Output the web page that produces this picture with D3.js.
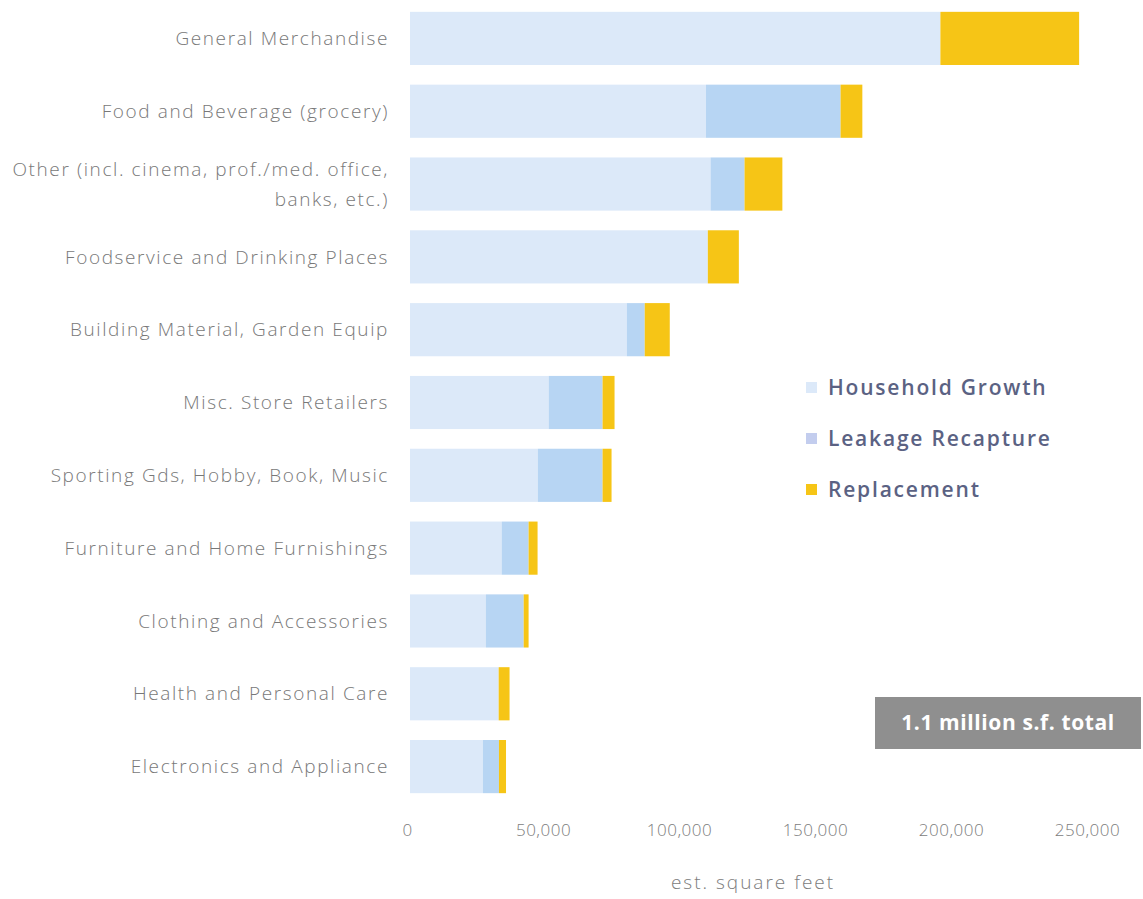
<!DOCTYPE html>
<html><head><meta charset="utf-8">
<script src="https://cdn.jsdelivr.net/npm/d3@7"></script>
<style>body{margin:0;background:#fff}svg{display:block}</style>
</head><body>
<svg id="chart" width="1143" height="899"></svg>
<script>
const categories = [
  "General Merchandise",
  "Food and Beverage (grocery)",
  "Other (incl. cinema, prof./med. office,|banks, etc.)",
  "Foodservice and Drinking Places",
  "Building Material, Garden Equip",
  "Misc. Store Retailers",
  "Sporting Gds, Hobby, Book, Music",
  "Furniture and Home Furnishings",
  "Clothing and Accessories",
  "Health and Personal Care",
  "Electronics and Appliance"
];
const householdGrowth = [195000, 108800, 110500, 109500, 79700, 51000, 47000, 33700, 27900, 32600, 26800];
const leakageRecapture = [0, 49500, 12500, 0, 6600, 19800, 23800, 9900, 13900, 0, 5900];
const replacement = [51000, 8000, 13900, 11400, 9200, 4400, 3300, 3300, 1800, 4000, 2600];
const seriesNames = ["Household Growth", "Leakage Recapture", "Replacement"];
const seriesColors = ["#dce9f9", "#b7d5f3", "#f6c516"];
const tickValues = [0, 50000, 100000, 150000, 200000, 250000];
const axisTitle = "est. square feet";
const totalNote = "1.1 million s.f. total";

const svg = d3.select("#chart");
const rows = categories.map((c, i) => ({cat: c, "Household Growth": householdGrowth[i], "Leakage Recapture": leakageRecapture[i], "Replacement": replacement[i]}));
const stack = d3.stack().keys(seriesNames)(rows);

const x = d3.scaleLinear().domain([0, 250000]).range([410, 1090]);
const y = d3.scaleBand().domain(categories).range([2, 803]).paddingInner(0.27).paddingOuter(0.135);
const color = d3.scaleOrdinal().domain(seriesNames).range(seriesColors);

svg.append("g").selectAll("g").data(stack).join("g")
  .attr("fill", d => color(d.key))
  .selectAll("rect").data(d => d).join("rect")
  .attr("x", d => x(d[0]))
  .attr("width", d => Math.max(0, x(d[1]) - x(d[0])))
  .attr("y", d => y(d.data.cat))
  .attr("height", y.bandwidth());

// category labels
const lab = svg.append("g").attr("font-family", "'Open Sans', sans-serif").attr("font-size", 19)
  .attr("font-weight", 300).attr("letter-spacing", "1.6px").attr("fill", "#787878").attr("text-anchor", "end");
categories.forEach(c => {
  const lines = c.split("|");
  const cy = y(c) + y.bandwidth() / 2;
  const t = lab.append("text").attr("x", 389).attr("y", cy - (lines.length - 1) * 15);
  lines.forEach((l, k) => t.append("tspan").attr("x", 389).attr("dy", k === 0 ? "0.35em" : "1.6em").text(l));
});

// x axis
const ax = svg.append("g").attr("transform", "translate(0,824)")
  .call(d3.axisBottom(x).tickValues(tickValues).tickFormat(d3.format(",")).tickSize(0).tickPadding(0));
ax.select(".domain").remove();
ax.selectAll("text").attr("font-family", "'Open Sans', sans-serif").attr("font-weight", 300).attr("font-size", 17)
  .attr("letter-spacing", "0.5px").attr("fill", "#7c7c7c").attr("dx", "-3");
svg.append("text").attr("x", 753).attr("y", 889).attr("text-anchor", "middle")
  .attr("font-family", "'Open Sans', sans-serif").attr("font-weight", 300).attr("font-size", 19)
  .attr("letter-spacing", "2px").attr("fill", "#7c7c7c").text(axisTitle);

// legend
const lg = svg.append("g");
seriesNames.forEach((s, i) => {
  const ly = 388 + i * 51;
  lg.append("rect").attr("x", 806).attr("y", ly - 6).attr("width", 11).attr("height", 11).attr("fill", i === 1 ? "#c3cdee" : color(s));
  lg.append("text").attr("x", 828).attr("y", ly).attr("dy", "0.35em")
    .attr("font-family", "'Open Sans', sans-serif").attr("font-weight", 600).attr("font-size", 21)
    .attr("letter-spacing", "1.8px").attr("fill", "#5b6283").text(s);
});

// total box
svg.append("rect").attr("x", 875).attr("y", 697).attr("width", 266).attr("height", 52).attr("fill", "#8f8f8f");
svg.append("text").attr("x", 1008).attr("y", 723).attr("dy", "0.35em").attr("text-anchor", "middle")
  .attr("font-family", "'Open Sans', sans-serif").attr("font-weight", 700).attr("font-size", 21)
  .attr("letter-spacing", "0.6px").attr("fill", "#fff").text(totalNote);
</script>
</body></html>
